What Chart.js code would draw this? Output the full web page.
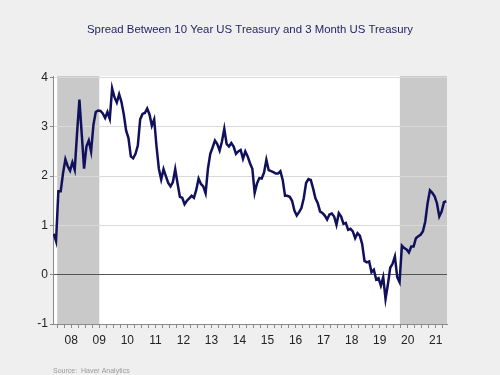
<!DOCTYPE html>
<html>
<head>
<meta charset="utf-8">
<script src="https://cdn.jsdelivr.net/npm/chart.js@4"></script>
<style>
  body { margin: 0; background: #efefef; }
  canvas { display: block; }
</style>
</head>
<body>
<canvas id="spreadChart" width="500" height="375"></canvas>
<script>
// Monthly spread, 10Y minus 3M (percentage points), starting Nov 2007
const startYear = 2007;
const startMonth = 11;
const spread = [
  0.83, 0.68,
  1.69, 1.69, 2.06, 2.34, 2.20, 2.11, 2.28, 2.13, 2.87, 3.55, 2.85, 2.15,
  2.60, 2.72, 2.50, 3.04, 3.30, 3.33, 3.32, 3.27, 3.18, 3.30, 3.16, 3.78,
  3.60, 3.49, 3.66, 3.50, 3.25, 2.92, 2.77, 2.40, 2.36, 2.45, 2.62, 3.15,
  3.26, 3.28, 3.37, 3.25, 3.02, 3.15, 2.60, 2.15, 1.93, 2.14, 2.00, 1.86,
  1.79, 1.88, 2.14, 1.85, 1.58, 1.56, 1.43, 1.50, 1.55, 1.60, 1.56, 1.72,
  1.95, 1.84, 1.79, 1.65, 2.15, 2.45, 2.58, 2.72, 2.65, 2.52, 2.70, 2.96,
  2.65, 2.60, 2.67, 2.60, 2.45, 2.50, 2.53, 2.35, 2.50, 2.40, 2.26, 2.15,
  1.66, 1.85, 1.96, 1.95, 2.07, 2.33, 2.12, 2.10, 2.08, 2.05, 2.05, 2.10,
  1.92, 1.60, 1.60, 1.58, 1.50, 1.30, 1.20, 1.27, 1.35, 1.55, 1.86, 1.94,
  1.92, 1.75, 1.55, 1.45, 1.28, 1.25, 1.20, 1.12, 1.22, 1.24, 1.18, 1.01,
  1.25, 1.18, 1.03, 1.05, 0.91, 0.93, 0.88, 0.74, 0.84, 0.79, 0.62, 0.28,
  0.25, 0.27, 0.05, 0.10, -0.10, -0.07, -0.22, -0.05, -0.49, -0.20, 0.14, 0.22,
  0.37, -0.05, -0.15, 0.59, 0.54, 0.51, 0.45, 0.57, 0.57, 0.74, 0.78, 0.81,
  0.88, 1.08, 1.45, 1.71, 1.66, 1.59, 1.45, 1.18, 1.28, 1.47, 1.49
];

const firstLabelYear = 2008;
const yearLabels = ['08', '09', '10', '11', '12', '13', '14', '15', '16', '17', '18', '19', '20', '21'];
const yTicks = [-1, 0, 1, 2, 3, 4];

// recession periods (decimal years)
const recessions = [[2008.0, 2009.5], [2020.22, 2021.9]];

const points = spread.map((v, i) => ({
  x: startYear + (startMonth - 1) / 12 + i / 12 + 1 / 24,
  y: v
}));

// background, plot area and recession bars
const backdrop = {
  id: 'backdrop',
  beforeDraw(chart) {
    const { ctx, chartArea, scales } = chart;
    ctx.save();
    ctx.fillStyle = '#efefef';
    ctx.fillRect(0, 0, chart.width, chart.height);
    ctx.fillStyle = '#ffffff';
    ctx.fillRect(chartArea.left, chartArea.top, chartArea.right - chartArea.left, chartArea.bottom - chartArea.top);
    ctx.fillStyle = '#c9c9c9';
    recessions.forEach(([a, b]) => {
      const x0 = Math.max(scales.x.getPixelForValue(a), chartArea.left);
      const x1 = Math.min(scales.x.getPixelForValue(b), chartArea.right);
      ctx.fillRect(x0, chartArea.top, x1 - x0, chartArea.bottom - chartArea.top);
    });
    ctx.restore();
  },
  afterDraw(chart) {
    const ctx = chart.ctx;
    ctx.save();
    ctx.font = '11.4px "Liberation Sans", Arial, sans-serif';
    ctx.fillStyle = '#1f1f66';
    ctx.textAlign = 'center';
    ctx.textBaseline = 'middle';
    ctx.fillText('Spread Between 10 Year US Treasury and 3 Month US Treasury', 250, 30);
    ctx.font = '7px "Liberation Sans", Arial, sans-serif';
    ctx.fillStyle = '#9a9a9a';
    ctx.textAlign = 'left';
    ctx.fillText('Source:  Haver Analytics', 53, 371);
    ctx.restore();
  }
};

new Chart(document.getElementById('spreadChart'), {
  type: 'line',
  data: {
    datasets: [{
      label: 'Spread',
      data: points,
      borderColor: '#10105c',
      borderWidth: 2.5,
      pointRadius: 0,
      tension: 0,
      fill: false
    }]
  },
  options: {
    responsive: false,
    animation: false,
    layout: { padding: { top: 76, right: 53, bottom: 0, left: 0 } },
    plugins: {
      legend: { display: false },
      title: { display: false },
      tooltip: { enabled: false }
    },
    scales: {
      x: {
        type: 'linear',
        min: 2007.85,
        max: 2021.9,
        afterBuildTicks(scale) {
          const ticks = [];
          for (let q = firstLabelYear * 4; q / 4 <= 2021.9; q++) {
            ticks.push({ value: q / 4 });
          }
          scale.ticks = ticks;
        },
        afterFit(scale) { scale.height = 51; },
        grid: {
          drawOnChartArea: false,
          drawTicks: true,
          tickLength: 4,
          tickColor: '#8a8a8a'
        },
        border: { color: '#8a8a8a', width: 1 },
        ticks: {
          autoSkip: false,
          maxRotation: 0,
          minRotation: 0,
          padding: 5,
          color: '#222',
          font: { family: '"Liberation Sans", Arial, sans-serif', size: 12 },
          callback(value) {
            const k = value - firstLabelYear - 0.5;
            if (Math.abs(k - Math.round(k)) < 1e-6) {
              return yearLabels[Math.round(k)] || '';
            }
            return '';
          }
        }
      },
      y: {
        min: -1,
        max: 4.03,
        afterBuildTicks(scale) {
          scale.ticks = yTicks.map(v => ({ value: v }));
        },
        afterFit(scale) { scale.width = 53; },
        grid: {
          color: ctx => (ctx.tick && ctx.tick.value === 0 ? '#555555' : '#d9d9d9'),
          lineWidth: 1,
          drawTicks: true,
          tickLength: 3,
          tickColor: '#8a8a8a'
        },
        border: { color: '#8a8a8a', width: 1 },
        ticks: {
          padding: 2,
          color: '#222',
          font: { family: '"Liberation Sans", Arial, sans-serif', size: 12 }
        }
      }
    }
  },
  plugins: [backdrop]
});
</script>
</body>
</html>
